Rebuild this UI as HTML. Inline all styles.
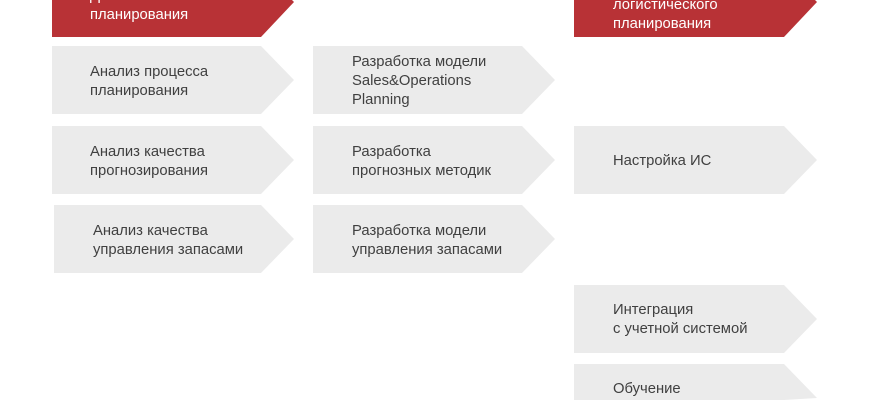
<!DOCTYPE html>
<html><head><meta charset="utf-8"><style>
html,body{margin:0;padding:0;background:#fff;width:870px;height:400px;overflow:hidden}
svg{display:block}
svg text{font-family:"Liberation Sans",sans-serif;font-size:14.8px;fill:#404040}
svg text.w{fill:#fff}
</style></head><body>
<svg width="870" height="400" viewBox="0 0 870 400">
<g fill="#ebebeb">
<polygon points="52,46 261,46 294,80 261,114 52,114"/>
<polygon points="52,126 261,126 294,160 261,194 52,194"/>
<polygon points="54,205 261,205 294,239 261,273 54,273"/>
<polygon points="313,46 522,46 555,80 522,114 313,114"/>
<polygon points="313,126 522,126 555,160 522,194 313,194"/>
<polygon points="313,205 522,205 555,239 522,273 313,273"/>
<polygon points="574,126 784,126 817,160 784,194 574,194"/>
<polygon points="574,285 784,285 817,319 784,353 574,353"/>
<polygon points="574,364 784,364 817,398 784,400 574,400"/>
</g>
<g fill="#b83236">
<polygon points="52,0 52,37 261,37 294,2 292,0"/>
<polygon points="574,0 574,37 784,37 817,2 815,0"/>
</g>
<text class="w" x="90" y="0">Диагностика системы</text>
<text class="w" x="90" y="19">планирования</text>
<text class="w" x="613" y="-10">Разработка модели</text>
<text class="w" x="613" y="9">логистического</text>
<text class="w" x="613" y="28">планирования</text>
<text x="90" y="76">Анализ процесса</text>
<text x="90" y="95">планирования</text>
<text x="90" y="156">Анализ качества</text>
<text x="90" y="175">прогнозирования</text>
<text x="93" y="235">Анализ качества</text>
<text x="93" y="254">управления запасами</text>
<text x="352" y="66">Разработка модели</text>
<text x="352" y="85">Sales&amp;Operations</text>
<text x="352" y="104">Planning</text>
<text x="352" y="156">Разработка</text>
<text x="352" y="175">прогнозных методик</text>
<text x="352" y="235">Разработка модели</text>
<text x="352" y="254">управления запасами</text>
<text x="613" y="165">Настройка ИС</text>
<text x="613" y="314">Интеграция</text>
<text x="613" y="333">с учетной системой</text>
<text x="613" y="393">Обучение</text>
</svg>
</body></html>
